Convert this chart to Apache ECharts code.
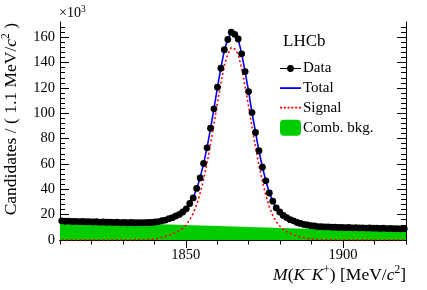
<!DOCTYPE html>
<html>
<head>
<meta charset="utf-8">
<script src="https://cdn.jsdelivr.net/npm/echarts@6/dist/echarts.min.js"></script>
<style>html,body{margin:0;padding:0;background:#fff;}#c{width:427px;height:290px;}</style>
</head>
<body>
<div id="c"></div>
<script>
// Binning: 100 bins of 1.1 MeV from 1810 to 1920
const binLow = 1810;
const binWidth = 1.1;
const nBins = 100;
const xTickLabels = [1850, 1900];
const yTickLabels = [0, 20, 40, 60, 80, 100, 120, 140, 160];

// Data (candidates per bin, x10^3)
const dataValues = [
  15.1,14.8,14.9,14.6,14.7,14.5,14.6,14.4,14.5,14.2,
  14.4,14.1,14.2,14.0,14.1,13.9,14.0,13.7,13.9,13.6,
  13.8,13.6,13.7,13.6,13.7,13.8,13.8,14.2,14.5,15.2,
  15.7,16.8,17.6,19.0,20.2,22.1,24.6,28.8,33.2,40.7,
  49.0,60.4,72.7,88.2,103.5,120.6,135.5,150.1,158.2,164.0,
  162.3,158.6,146.9,132.9,117.1,100.5,84.9,70.4,57.4,46.7,
  37.1,30.6,25.3,22.1,19.4,17.7,16.0,15.1,13.8,13.1,
  12.3,11.9,11.3,11.1,10.6,10.6,10.3,10.4,10.1,10.1,
  9.9,10.0,9.7,9.9,9.6,9.8,9.5,9.6,9.4,9.5,
  9.3,9.4,9.1,9.3,9.0,9.1,8.9,9.0,8.8,8.9
];

// Total fit curve at bin centres (x10^3)
const totalValues = [
  14.9,14.8,14.8,14.7,14.6,14.6,14.5,14.5,14.4,14.3,
  14.3,14.2,14.1,14.1,14.0,14.0,13.9,13.8,13.8,13.7,
  13.75,13.68,13.62,13.68,13.65,13.7,13.9,14.1,14.6,15.1,
  15.8,16.7,17.7,18.9,20.3,22.0,24.7,28.6,33.4,40.5,
  49.2,60.2,72.9,87.9,103.7,120.3,135.8,149.8,158.5,163.8,
  162.5,158.3,147.2,132.6,117.4,100.2,85.2,70.2,57.6,46.5,
  37.3,30.4,25.5,22.0,19.5,17.6,16.1,15.0,13.9,13.0,
  12.4,11.8,11.4,11.0,10.7,10.55,10.35,10.3,10.16,10.0,
  10.0,9.9,9.8,9.8,9.7,9.7,9.6,9.5,9.5,9.4,
  9.4,9.3,9.2,9.2,9.1,9.0,9.0,8.9,8.9,8.8
];

// Signal curve at bin centres (x10^3)
const signalValues = [
  0,0,0,0,0,0,0,0,0,0,
  0,0,0,0,0,0,0,0,0,0,
  0.05,0.08,0.12,0.18,0.25,0.4,0.6,0.9,1.4,2.0,
  2.8,3.7,4.8,6.0,7.5,9.3,12.0,16.0,20.9,28.0,
  36.8,47.8,60.6,75.7,91.5,108.2,123.7,137.8,146.6,151.9,
  150.7,146.6,135.5,121.0,105.8,88.7,73.8,58.8,46.3,35.2,
  26.1,19.3,14.4,11.0,8.5,6.7,5.3,4.2,3.2,2.4,
  1.8,1.3,0.9,0.6,0.4,0.25,0.15,0.1,0.06,0,
  0,0,0,0,0,0,0,0,0,0,
  0,0,0,0,0,0,0,0,0,0
];

// Combinatorial background curve (x10^3), sampled every 5 MeV
const combMass = [1810,1815,1820,1825,1830,1835,1840,1845,1850,1855,1860,1865,1870,1875,1880,1885,1890,1895,1900,1905,1910,1915,1920];
const combValues = [13.8,13.6,13.4,13.2,13.0,12.8,12.5,12.2,11.9,11.5,11.1,10.7,10.3,9.9,9.5,9.1,8.8,8.5,8.2,7.9,7.6,7.4,7.2];

const centres = [];
for (let i = 0; i < nBins; i++) centres.push(+(binLow + binWidth * (i + 0.5)).toFixed(3));

const FONT = '"Liberation Serif", "Times New Roman", serif';

const xMinorTicks = [];
for (let v = 1810; v <= 1920; v += 10) xMinorTicks.push(v);
const yMinorTicks = [];
for (let v = 0; v <= 168; v += 4) yMinorTicks.push(v);

function xAxis(pos, major, labels) {
  return {
    type: 'value', position: pos, min: 1810, max: 1920, interval: 10,
    axisLine: { show: major, lineStyle: { color: '#000', width: 1 } },
    axisTick: { show: true, inside: true, length: major ? 8 : 4.5,
      customValues: major ? xTickLabels : xMinorTicks, lineStyle: { color: '#000', width: 1 } },
    axisLabel: { show: labels, customValues: xTickLabels, margin: 8, formatter: v => String(v),
      fontFamily: FONT, fontSize: 14.5, color: '#000' },
    splitLine: { show: false }
  };
}
function yAxis(pos, major, labels) {
  return {
    type: 'value', position: pos, min: 0, max: 172, interval: 4,
    axisLine: { show: major, lineStyle: { color: '#000', width: 1 } },
    axisTick: { show: true, inside: true, length: major ? 9 : 5,
      customValues: major ? yTickLabels : yMinorTicks, lineStyle: { color: '#000', width: 1 } },
    axisLabel: { show: labels, customValues: yTickLabels, margin: 5, formatter: v => String(v),
      fontFamily: FONT, fontSize: 14.5, color: '#000' },
    splitLine: { show: false }
  };
}

const titleRich = {
  n: { fontFamily: FONT, fontSize: 17.5, fill: '#000', lineHeight: 20, verticalAlign: 'bottom' },
  i: { fontFamily: FONT, fontSize: 17.5, fontStyle: 'italic', fill: '#000', lineHeight: 20, verticalAlign: 'bottom' },
  s: { fontFamily: FONT, fontSize: 11.5, fill: '#000', lineHeight: 20, verticalAlign: 'top' }
};

const chart = echarts.init(document.getElementById('c'), null, { renderer: 'canvas' });
chart.setOption({
  animation: false,
  backgroundColor: '#fff',
  grid: { left: 60, right: 21, top: 22, bottom: 50 },
  xAxis: [xAxis('bottom', true, true), xAxis('bottom', false, false), xAxis('top', true, false), xAxis('top', false, false)],
  yAxis: [yAxis('left', true, true), yAxis('left', false, false), yAxis('right', true, false), yAxis('right', false, false)],
  legend: {
    orient: 'vertical', left: 280, top: 61, padding: 0, itemWidth: 21, itemHeight: 16, itemGap: 4.6,
    textStyle: { fontFamily: FONT, fontSize: 15, color: '#000', padding: [0, 0, 0, -3] },
    selectedMode: false,
    data: [
      { name: 'Data', icon: 'path://M0,9h40v2h-40z M26.5,10a6.5,6.5 0 1 1 -13,0a6.5,6.5 0 1 1 13,0z', itemStyle: { color: '#000', opacity: 1 } },
      { name: 'Total', icon: 'path://M0,0h40v3.4h-40z', itemStyle: { color: '#0000ff' } },
      { name: 'Signal', icon: 'path://M0,0h4v3.4h-4z M7.2,0h4v3.4h-4z M14.4,0h4v3.4h-4z M21.6,0h4v3.4h-4z M28.8,0h4v3.4h-4z M36,0h4v3.4h-4z', itemStyle: { color: '#ff0000' } },
      { name: 'Comb. bkg.', icon: 'roundRect', itemStyle: { color: '#00cc00' } }
    ]
  },
  series: [
    { name: 'Comb. bkg.', type: 'line', data: combMass.map((m, i) => [m, combValues[i]]),
      symbol: 'none', color: '#00cc00', lineStyle: { width: 0 },
      areaStyle: { color: '#00cc00', opacity: 1 }, z: 1 },
    { name: 'Signal', type: 'line', data: centres.map((m, i) => [m, signalValues[i]]),
      symbol: 'none', color: '#ff0000', lineStyle: { color: '#ff0000', width: 1.6, type: [2, 2.5] }, z: 2 },
    { name: 'Total', type: 'line', data: centres.map((m, i) => [m, totalValues[i]]),
      symbol: 'none', color: '#0000ff', lineStyle: { color: '#0000ff', width: 1.6 }, z: 3 },
    { name: 'Data', type: 'scatter', data: centres.map((m, i) => [m, dataValues[i]]),
      symbol: 'circle', symbolSize: 6.8, itemStyle: { color: '#000', opacity: 1 }, z: 4 }
  ],
  graphic: [
    { type: 'text', left: 59, top: 4, style: { text: '{a|×10}{s|3}', rich: {
        a: { fontFamily: FONT, fontSize: 14, fill: '#000', lineHeight: 16, verticalAlign: 'bottom' },
        s: { fontFamily: FONT, fontSize: 9.5, fill: '#000', lineHeight: 16, verticalAlign: 'top' } } } },
    { type: 'text', left: 283, top: 33, style: { text: 'LHCb', fontFamily: FONT, fontSize: 17, fill: '#000' } },
    { type: 'text', x: 406, y: 274, style: { text: '{i|M}{n|(}{i|K}{s|−}{i|K}{s|+}{n|) [MeV/}{i|c}{s|2}{n|]}',
        align: 'right', verticalAlign: 'middle', rich: titleRich } },
    { type: 'text', x: 10, y: 23, rotation: Math.PI / 2, style: { text: '{n|Candidates / ( 1.1 MeV/}{i|c}{s|2}{n| )}',
        align: 'right', verticalAlign: 'middle', rich: titleRich } }
  ]
});
</script>
</body>
</html>
